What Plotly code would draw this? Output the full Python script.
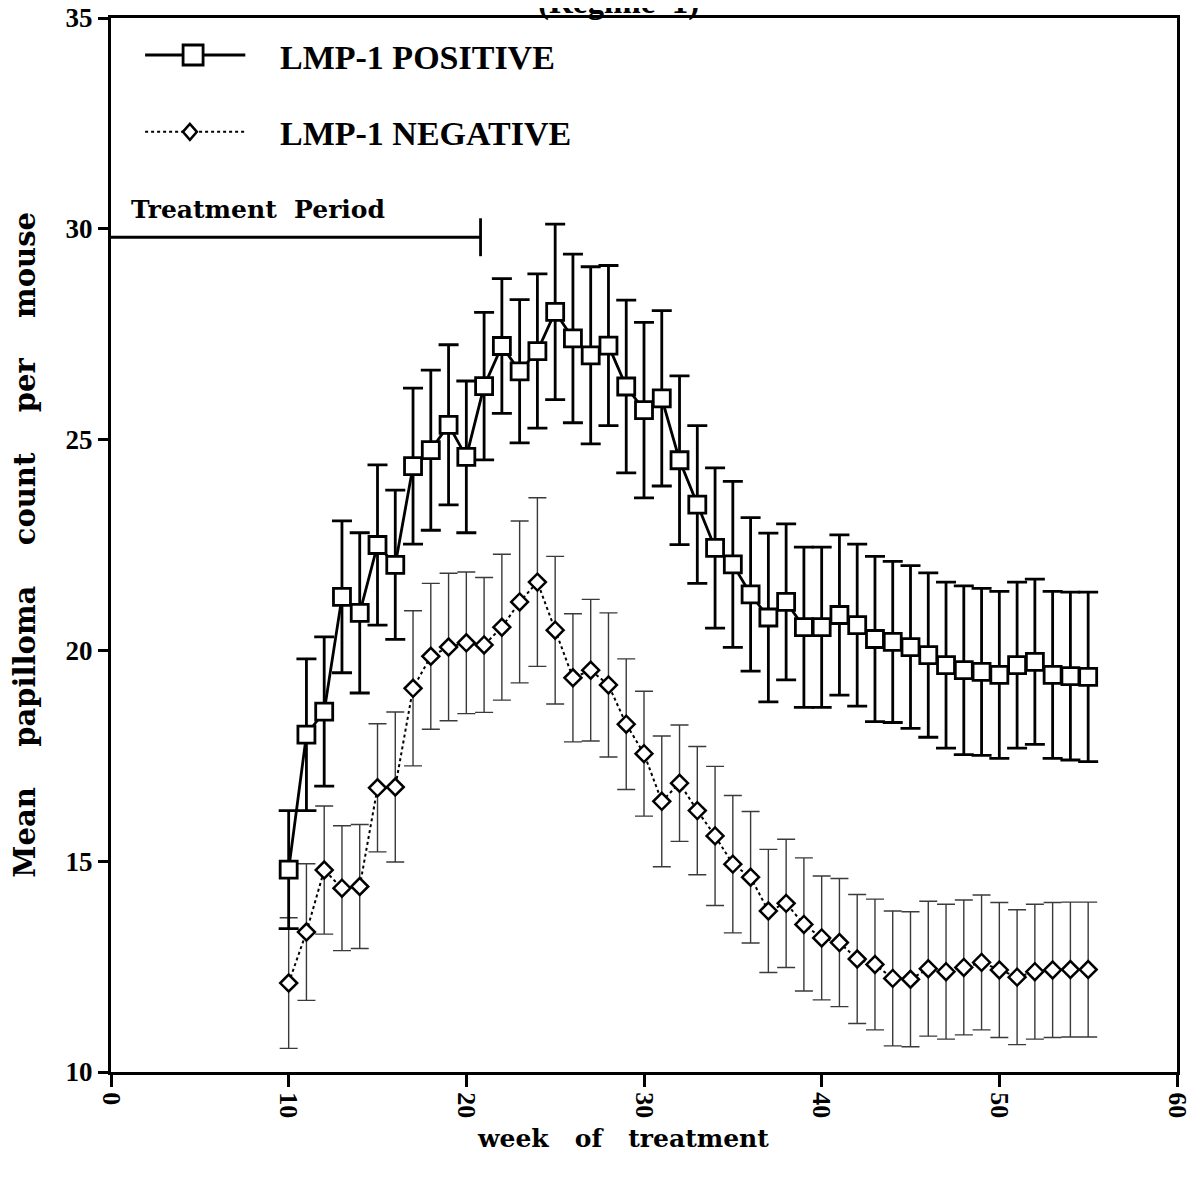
import plotly.graph_objects as go

# ---------------- data ----------------
weeks = list(range(10, 56))

pos_mean = [14.8, 18.0, 18.55, 21.27, 20.89, 22.5, 22.03, 24.37, 24.75, 25.35, 24.59,
            26.27, 27.22, 26.62, 27.1, 28.03, 27.4, 27.0, 27.23, 26.26, 25.7,
            25.98, 24.51, 23.46, 22.43, 22.04, 21.33, 20.78, 21.15, 20.55, 20.55,
            20.84, 20.6, 20.27, 20.2, 20.08, 19.89, 19.65, 19.53, 19.49, 19.42,
            19.65, 19.73, 19.42, 19.39, 19.37]
pos_err = [1.4, 1.8, 1.77, 1.8, 1.9, 1.9, 1.77, 1.85, 1.9, 1.9, 1.8,
           1.75, 1.6, 1.7, 1.83, 2.08, 2.0, 2.1, 1.9, 2.05, 2.08,
           2.08, 2.0, 1.87, 1.9, 1.97, 1.82, 2.0, 1.85, 1.9, 1.9,
           1.9, 1.92, 1.96, 1.91, 1.93, 1.95, 1.97, 2.0, 1.98, 1.98,
           1.97, 1.96, 1.98, 1.99, 2.01]

neg_mean = [12.11, 13.32, 14.79, 14.36, 14.4, 16.74, 16.76, 19.1, 19.86, 20.08, 20.18,
            20.13, 20.55, 21.15, 21.62, 20.48, 19.35, 19.53, 19.18, 18.25, 17.55,
            16.42, 16.85, 16.2, 15.6, 14.93, 14.62, 13.82, 14.0, 13.5, 13.18,
            13.07, 12.68, 12.55, 12.22, 12.2, 12.45, 12.38, 12.48, 12.6, 12.42,
            12.25, 12.38, 12.42, 12.43, 12.43]
neg_err = [1.55, 1.62, 1.52, 1.48, 1.47, 1.52, 1.78, 1.84, 1.73, 1.75, 1.68,
           1.6, 1.73, 1.92, 2.0, 1.75, 1.52, 1.68, 1.71, 1.55, 1.48,
           1.55, 1.38, 1.52, 1.65, 1.63, 1.56, 1.46, 1.52, 1.58, 1.47,
           1.52, 1.53, 1.55, 1.6, 1.6, 1.6, 1.6, 1.6, 1.6, 1.6,
           1.6, 1.6, 1.6, 1.6, 1.6]

series_names = ["LMP-1 POSITIVE", "LMP-1 NEGATIVE"]
x_ticks = [0, 10, 20, 30, 40, 50, 60]
y_ticks = [10, 15, 20, 25, 30, 35]
treatment_end = 20.8
treatment_level = 29.8

FONT = "Liberation Serif, Times New Roman, serif"
WIDE = "DejaVu Serif, Liberation Serif, serif"

fig = go.Figure()

fig.add_trace(go.Scatter(
    x=weeks, y=neg_mean, name=series_names[1], mode="lines+markers",
    line=dict(color="black", width=2, dash="dot"),
    marker=dict(symbol="diamond", size=13, color="white",
                line=dict(color="black", width=2.5)),
    error_y=dict(type="data", array=neg_err, visible=True,
                 color="#3a3a3a", thickness=1.4, width=9),
    showlegend=False,
))

fig.add_trace(go.Scatter(
    x=weeks, y=pos_mean, name=series_names[0], mode="lines+markers",
    line=dict(color="black", width=2.8),
    marker=dict(symbol="square", size=17, color="white",
                line=dict(color="black", width=2.8)),
    error_y=dict(type="data", array=pos_err, visible=True,
                 color="black", thickness=2.8, width=10),
    showlegend=False,
))

shapes = []
# Treatment period bar
shapes.append(dict(type="line", xref="x", yref="y", x0=0, x1=treatment_end,
                   y0=treatment_level, y1=treatment_level,
                   line=dict(color="black", width=2.8)))
shapes.append(dict(type="line", xref="x", yref="y", x0=treatment_end, x1=treatment_end,
                   y0=treatment_level - 0.45, y1=treatment_level + 0.45,
                   line=dict(color="black", width=2.8)))

# custom legend (paper coordinates)
lx0, lx1, lxm = 0.032, 0.126, 0.077
ly1, ly2 = 0.9649, 0.892
shapes.append(dict(type="line", xref="paper", yref="paper", x0=lx0, x1=lx1, y0=ly1, y1=ly1,
                   line=dict(color="black", width=2.8)))
shapes.append(dict(type="rect", xref="paper", yref="paper", xsizemode="pixel", ysizemode="pixel",
                   xanchor=lxm, yanchor=ly1, x0=-10, x1=10, y0=-10, y1=10,
                   fillcolor="white", line=dict(color="black", width=2.8)))
shapes.append(dict(type="line", xref="paper", yref="paper", x0=lx0, x1=lx1, y0=ly2, y1=ly2,
                   line=dict(color="black", width=2, dash="dot")))
shapes.append(dict(type="path", xref="paper", yref="paper", xsizemode="pixel", ysizemode="pixel",
                   xanchor=lxm - 0.003, yanchor=ly2, path="M0,-8 L7,0 L0,8 L-7,0 Z",
                   fillcolor="white", line=dict(color="black", width=2.5)))

annotations = [
    dict(text=series_names[0], xref="paper", yref="paper", x=0.157, y=ly1 - 0.002,
         xanchor="left", yanchor="middle", showarrow=False,
         font=dict(family=FONT, size=34, color="black", weight="bold")),
    dict(text=series_names[1], xref="paper", yref="paper", x=0.157, y=ly2 - 0.002,
         xanchor="left", yanchor="middle", showarrow=False,
         font=dict(family=FONT, size=34, color="black", weight="bold")),
    dict(text="Treatment  Period", xref="x", yref="y", x=1.0, y=30.45,
         xanchor="left", yanchor="middle", showarrow=False,
         font=dict(family=WIDE, size=25, color="black", weight="bold")),
    dict(text="(Regime  1)", xref="paper", yref="paper", x=0.476, y=1.0,
         xanchor="center", yanchor="bottom", yshift=-5, showarrow=False,
         font=dict(family=FONT, size=33, color="black", weight="bold")),
    dict(text="Mean    papilloma    count    per    mouse", xref="paper", yref="paper",
         x=-0.081, y=0.5, xanchor="center", yanchor="middle", textangle=-90,
         showarrow=False, font=dict(family=WIDE, size=29, color="black", weight="bold")),
    dict(text="week   of   treatment", xref="paper", yref="paper",
         x=0.48, y=-0.0635, xanchor="center", yanchor="middle",
         showarrow=False, font=dict(family=WIDE, size=25, color="black", weight="bold")),
]

fig.update_layout(
    width=1203, height=1196,
    margin=dict(l=103, r=34, t=10, b=132, autoexpand=False),
    paper_bgcolor="white", plot_bgcolor="white",
    shapes=shapes, annotations=annotations,
    showlegend=False,
    font=dict(family=FONT, color="black"),
)

fig.update_xaxes(range=[0, 60], tickvals=x_ticks, ticktext=[str(v) for v in x_ticks],
                 tickangle=90, ticks="outside", ticklen=12, tickwidth=3, tickcolor="black",
                 showline=True, linecolor="black", linewidth=3, mirror=True,
                 showgrid=False, zeroline=False, ticklabeloverflow="allow", automargin=False,
                 tickfont=dict(family=FONT, size=26, color="black", weight="bold"))
fig.update_yaxes(range=[10, 35], tickvals=y_ticks, ticktext=[str(v) for v in y_ticks],
                 ticks="outside", ticklen=10, tickwidth=2.5, tickcolor="black",
                 showline=True, linecolor="black", linewidth=3, mirror=True,
                 showgrid=False, zeroline=False, ticklabeloverflow="allow", automargin=False,
                 tickfont=dict(family=FONT, size=27, color="black", weight="bold"))

fig.write_html("out.html")
